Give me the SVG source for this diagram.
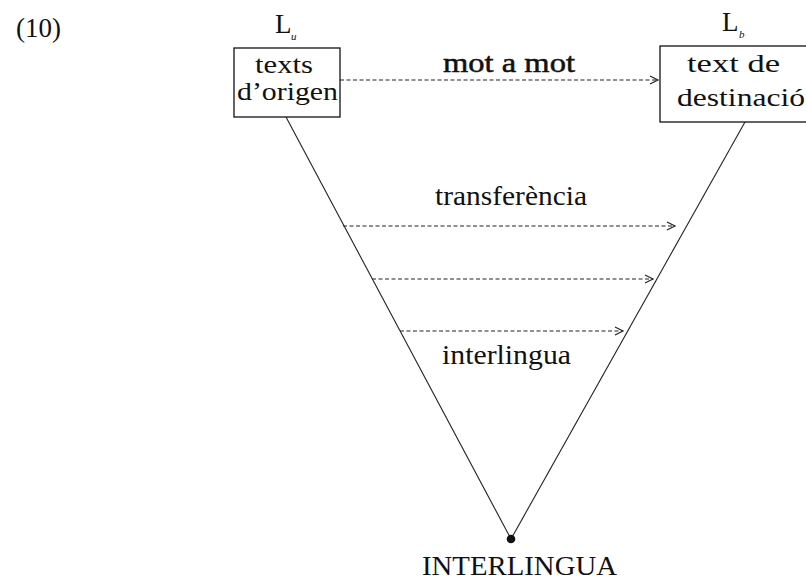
<svg xmlns="http://www.w3.org/2000/svg" width="806" height="582" viewBox="0 0 806 582">
<defs>
<style>
.t{font-family:"Liberation Serif","Times New Roman",serif;font-size:27px;fill:#111}
.bt{font-family:"Liberation Serif","Times New Roman",serif;font-size:25px;fill:#111}
.sub{font-family:"Liberation Serif","Times New Roman",serif;font-size:11px;font-style:italic;fill:#111}
.box{fill:#fff;stroke:#111;stroke-width:1.3}
.edge{fill:none;stroke:#222;stroke-width:1.1}
.dash{fill:none;stroke:#222;stroke-width:1.1;stroke-dasharray:4 2.5}
</style>
<marker id="arr" markerUnits="userSpaceOnUse" markerWidth="12" markerHeight="12" refX="9" refY="5" orient="auto">
<path d="M1,1 L9,5 L1,9" fill="none" stroke="#222" stroke-width="1.2"/>
</marker>
</defs>
<rect width="806" height="582" fill="#fff"/>
<text class="t" x="16" y="37">(10)</text>

<g id="connectors">
<line class="edge" x1="286" y1="117" x2="511" y2="539"/>
<line class="edge" x1="745" y1="122" x2="511" y2="539"/>
<line class="dash" x1="340" y1="80" x2="658" y2="80" marker-end="url(#arr)"/>
<line class="dash" x1="343" y1="226" x2="675" y2="226" marker-end="url(#arr)"/>
<line class="dash" x1="372" y1="279" x2="653" y2="279" marker-end="url(#arr)"/>
<line class="dash" x1="400" y1="331" x2="623" y2="331" marker-end="url(#arr)"/>
<text class="t" x="443" y="72" textLength="132" lengthAdjust="spacingAndGlyphs" stroke="#111" stroke-width="0.5">mot  a  mot</text>
<text class="t" x="435" y="205" textLength="152" lengthAdjust="spacingAndGlyphs">transferència</text>
<text class="t" x="442" y="364" textLength="129" lengthAdjust="spacingAndGlyphs">interlingua</text>
</g>

<g id="node-source">
<text class="t" x="275" y="33" font-size="23">L</text>
<text class="sub" x="291" y="40">u</text>
<rect class="box" x="234" y="48" width="106" height="69"/>
<text class="bt" x="255" y="73" textLength="58" lengthAdjust="spacingAndGlyphs">texts</text>
<text class="bt" x="237" y="100" textLength="101" lengthAdjust="spacingAndGlyphs">d’origen</text>
</g>

<g id="node-target">
<text class="t" x="722" y="31" font-size="23">L</text>
<text class="sub" x="739" y="38">b</text>
<rect class="box" x="660" y="46" width="152" height="76"/>
<text class="bt" x="687" y="72" textLength="93" lengthAdjust="spacingAndGlyphs">text de</text>
<text class="bt" x="677" y="106" textLength="128" lengthAdjust="spacingAndGlyphs">destinació</text>
</g>

<g id="node-interlingua">
<circle cx="511" cy="539" r="4.3" fill="#111"/>
<text class="t" x="422" y="575" textLength="195" lengthAdjust="spacingAndGlyphs">INTERLINGUA</text>
</g>
</svg>
